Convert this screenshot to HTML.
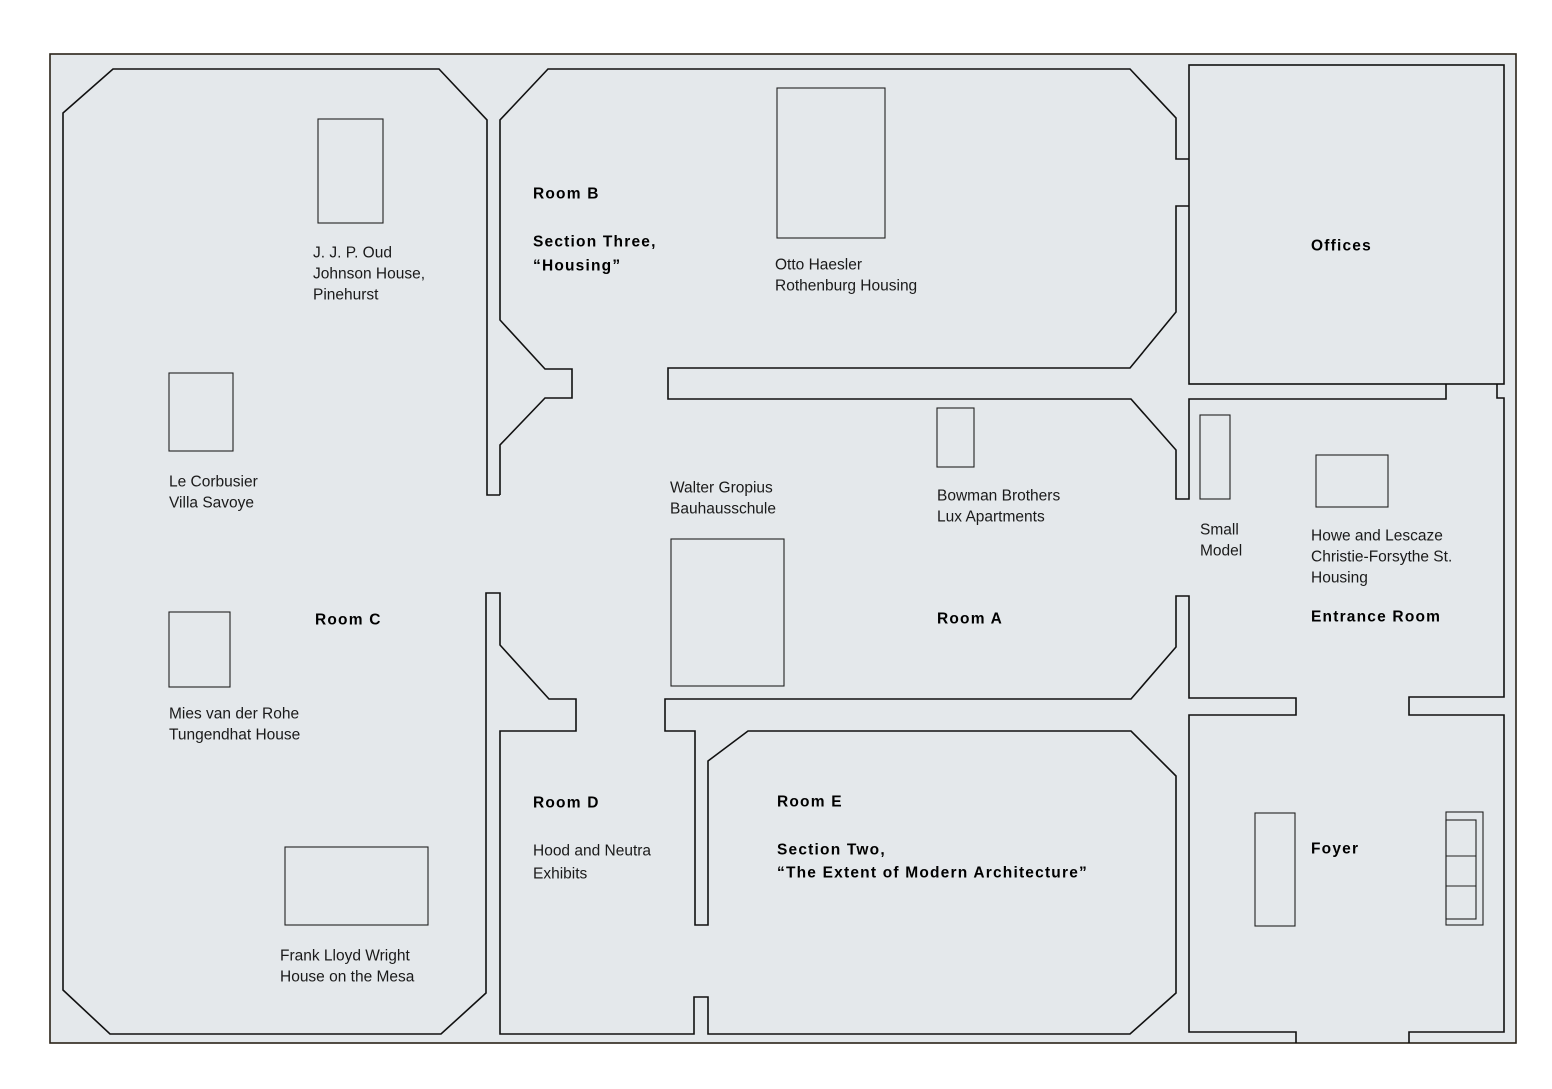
<!DOCTYPE html>
<html><head><meta charset="utf-8"><style>
html,body{margin:0;padding:0;background:#fff;}
svg{display:block;}
text{font-family:"Liberation Sans",sans-serif;fill:#1a1a1a;dominant-baseline:central;}
.t{font-size:15.5px;font-weight:normal;}
.b{font-size:15.5px;font-weight:bold;letter-spacing:1.2px;fill:#000;}
</style></head><body>
<svg width="1552" height="1089" viewBox="0 0 1552 1089" xmlns="http://www.w3.org/2000/svg">
<rect x="0" y="0" width="1552" height="1089" fill="#fff"/>
<rect x="50" y="54" width="1466" height="989" fill="#e4e8eb" stroke="#2a2218" stroke-width="1.6"/>
<g fill="none" stroke="#111" stroke-width="1.6" stroke-linejoin="miter">
<polyline points="500,495 487,495 487,120 439,69 113,69 63,113 63,990 110,1034 441,1034 486,993 486,593 500,593 500,645 549,699 576,699 576,731 500,731 500,1034 694,1034 694,997 708,997 708,1034 1130,1034 1176,993 1176,776 1131,731 748,731 708,761 708,925 695,925 695,731 665,731 665,699 1131,699 1176,647 1176,596 1189,596 1189,698 1296,698 1296,715 1189,715 1189,1032 1296,1032 1296,1043"/>
<polyline points="500,495 500,445 545,398 572,398 572,369 545,369 500,320 500,120 548,69 1130,69 1176,118 1176,159 1189,159"/>
<rect x="1189" y="65" width="315" height="319"/>
<polyline points="1446,384 1446,399 1189,399 1189,499 1176,499 1176,450 1131,399 668,399 668,368 1130,368 1176,312 1176,206 1189,206"/>
<polyline points="1497,384 1497,398 1504,398 1504,697 1409,697 1409,715 1504,715 1504,1032 1409,1032 1409,1043"/>
</g>
<g fill="none" stroke="#222" stroke-width="1.1">
<rect x="318" y="119" width="65" height="104"/>
<rect x="169" y="373" width="64" height="78"/>
<rect x="169" y="612" width="61" height="75"/>
<rect x="285" y="847" width="143" height="78"/>
<rect x="777" y="88" width="108" height="150"/>
<rect x="671" y="539" width="113" height="147"/>
<rect x="937" y="408" width="37" height="59"/>
<rect x="1200" y="415" width="30" height="84"/>
<rect x="1316" y="455" width="72" height="52"/>
<rect x="1255" y="813" width="40" height="113"/>
<rect x="1446" y="812" width="37" height="113"/>
<rect x="1446" y="820" width="30" height="99"/>
<line x1="1446" y1="856" x2="1476" y2="856"/>
<line x1="1446" y1="886" x2="1476" y2="886"/>
</g>
<text class="t" x="313" y="253">J. J. P. Oud</text>
<text class="t" x="313" y="274">Johnson House,</text>
<text class="t" x="313" y="295">Pinehurst</text>
<text class="b" x="533" y="194">Room B</text>
<text class="b" x="533" y="242">Section Three,</text>
<text class="b" x="533" y="266">“Housing”</text>
<text class="t" x="775" y="265">Otto Haesler</text>
<text class="t" x="775" y="286">Rothenburg Housing</text>
<text class="b" x="1311" y="246">Offices</text>
<text class="t" x="169" y="482">Le Corbusier</text>
<text class="t" x="169" y="503">Villa Savoye</text>
<text class="t" x="670" y="488">Walter Gropius</text>
<text class="t" x="670" y="509">Bauhausschule</text>
<text class="t" x="937" y="496">Bowman Brothers</text>
<text class="t" x="937" y="517">Lux Apartments</text>
<text class="t" x="1200" y="530">Small</text>
<text class="t" x="1200" y="551">Model</text>
<text class="t" x="1311" y="536">Howe and Lescaze</text>
<text class="t" x="1311" y="557">Christie-Forsythe St.</text>
<text class="t" x="1311" y="578">Housing</text>
<text class="b" x="315" y="620">Room C</text>
<text class="b" x="937" y="619">Room A</text>
<text class="b" x="1311" y="617">Entrance Room</text>
<text class="t" x="169" y="714">Mies van der Rohe</text>
<text class="t" x="169" y="735">Tungendhat House</text>
<text class="b" x="533" y="803">Room D</text>
<text class="t" x="533" y="851">Hood and Neutra</text>
<text class="t" x="533" y="874">Exhibits</text>
<text class="b" x="777" y="802">Room E</text>
<text class="b" x="777" y="850">Section Two,</text>
<text class="b" x="777" y="873">“The Extent of Modern Architecture”</text>
<text class="b" x="1311" y="849">Foyer</text>
<text class="t" x="280" y="956">Frank Lloyd Wright</text>
<text class="t" x="280" y="977">House on the Mesa</text>
</svg>
</body></html>
